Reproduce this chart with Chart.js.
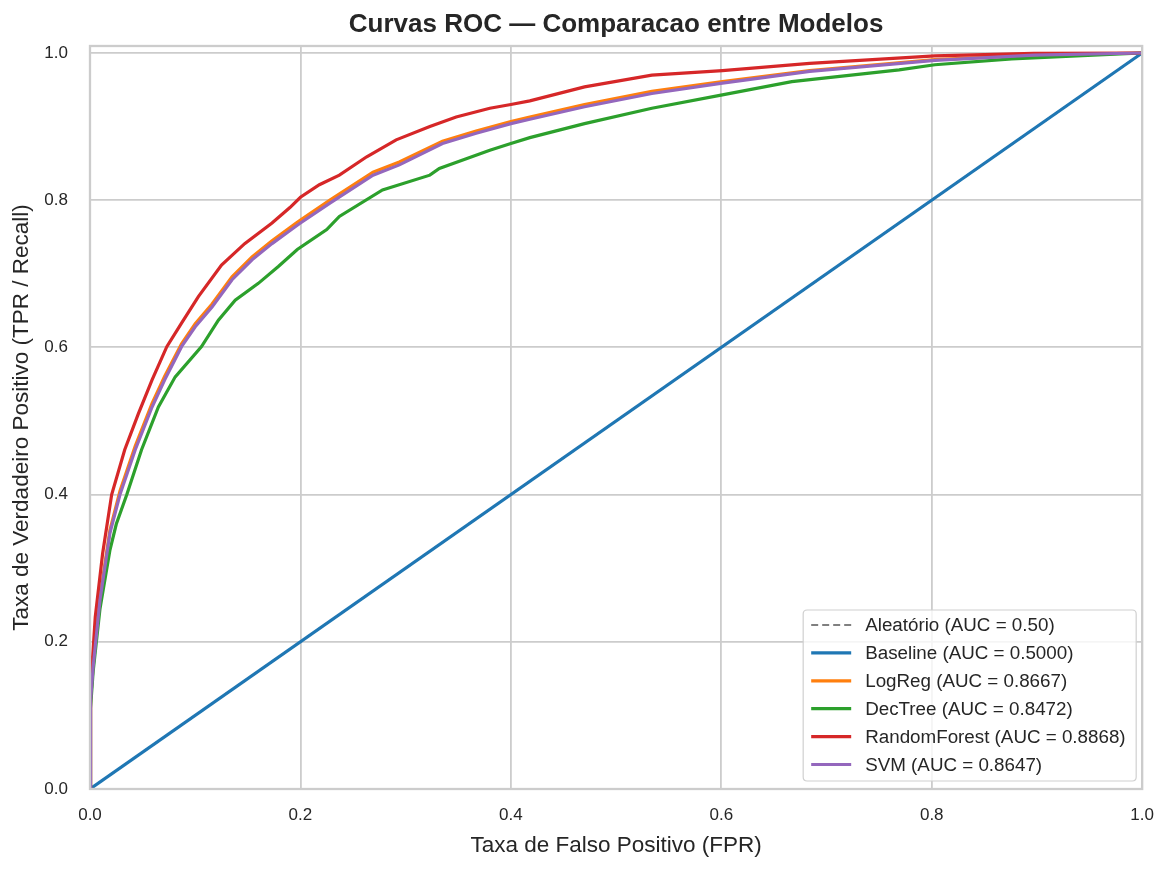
<!DOCTYPE html>
<html>
<head>
<meta charset="utf-8">
<script src="https://cdn.jsdelivr.net/npm/chart.js@4.4.1/dist/chart.umd.min.js"></script>
<style>
  html, body { margin: 0; padding: 0; background: #ffffff; }
  #wrap { width: 1170px; height: 870px; }
  canvas { display: block; }
</style>
</head>
<body>
<div id="wrap"><canvas id="c" width="1170" height="870"></canvas></div>
<script>
// ---- Data ----
const diagFpr = [0, 1];
const diagTpr = [0, 1];

const baseFpr = [0, 1];
const baseTpr = [0, 1];

const svmFpr = [0, 0.0005, 0.003, 0.0095, 0.019, 0.0285, 0.043, 0.059, 0.071, 0.087, 0.1, 0.116, 0.135, 0.154, 0.173, 0.195, 0.2, 0.228, 0.269, 0.294, 0.335, 0.367, 0.4, 0.418, 0.47, 0.534, 0.601, 0.684, 0.803, 0.897, 1];
const svmTpr = [0, 0.12, 0.166, 0.257, 0.348, 0.40, 0.461, 0.519, 0.556, 0.601, 0.628, 0.655, 0.692, 0.719, 0.741, 0.764, 0.769, 0.796, 0.834, 0.848, 0.877, 0.891, 0.904, 0.910, 0.927, 0.945, 0.959, 0.975, 0.990, 0.997, 1];

const lrFpr = [0, 0.0005, 0.003, 0.0095, 0.019, 0.0285, 0.043, 0.059, 0.071, 0.087, 0.1, 0.116, 0.135, 0.154, 0.173, 0.195, 0.2, 0.228, 0.269, 0.294, 0.335, 0.367, 0.4, 0.418, 0.47, 0.534, 0.601, 0.684, 0.803, 0.897, 1];
const lrTpr = [0, 0.12, 0.168, 0.261, 0.352, 0.405, 0.466, 0.524, 0.561, 0.605, 0.632, 0.659, 0.696, 0.723, 0.745, 0.768, 0.773, 0.800, 0.838, 0.852, 0.880, 0.894, 0.907, 0.913, 0.930, 0.948, 0.961, 0.976, 0.991, 0.997, 1];

const dtFpr = [0, 0.0005, 0.003, 0.0095, 0.019, 0.025, 0.035, 0.049, 0.065, 0.081, 0.106, 0.122, 0.138, 0.16, 0.179, 0.197, 0.225, 0.237, 0.278, 0.323, 0.332, 0.38, 0.4, 0.418, 0.47, 0.534, 0.601, 0.667, 0.769, 0.803, 0.876, 1];
const dtTpr = [0, 0.11, 0.16, 0.245, 0.325, 0.36, 0.40, 0.461, 0.519, 0.56, 0.601, 0.637, 0.664, 0.687, 0.71, 0.733, 0.76, 0.778, 0.814, 0.834, 0.843, 0.868, 0.877, 0.885, 0.904, 0.925, 0.943, 0.961, 0.977, 0.984, 0.992, 1];

const rfFpr = [0, 0.0005, 0.003, 0.005, 0.012, 0.0206, 0.033, 0.046, 0.059, 0.073, 0.087, 0.103, 0.125, 0.147, 0.173, 0.19, 0.2, 0.218, 0.237, 0.263, 0.291, 0.323, 0.348, 0.38, 0.4, 0.418, 0.47, 0.534, 0.601, 0.684, 0.803, 0.897, 1];
const rfTpr = [0, 0.14, 0.19, 0.234, 0.32, 0.40, 0.461, 0.51, 0.556, 0.601, 0.633, 0.669, 0.712, 0.741, 0.769, 0.79, 0.804, 0.821, 0.834, 0.859, 0.882, 0.90, 0.913, 0.925, 0.93, 0.935, 0.954, 0.97, 0.976, 0.986, 0.996, 0.9995, 1];

const seriesLabels = [
  'Aleatório (AUC = 0.50)',
  'Baseline (AUC = 0.5000)',
  'LogReg (AUC = 0.8667)',
  'DecTree (AUC = 0.8472)',
  'RandomForest (AUC = 0.8868)',
  'SVM (AUC = 0.8647)'
];
const xTickValues = [0, 0.2, 0.4, 0.6, 0.8, 1.0];
const yTickValues = [0, 0.2, 0.4, 0.6, 0.8, 1.0];

const titleText = 'Curvas ROC — Comparacao entre Modelos';
const xTitle = 'Taxa de Falso Positivo (FPR)';
const yTitle = 'Taxa de Verdadeiro Positivo (TPR / Recall)';

// ---- Helpers ----
function pts(xs, ys) { return xs.map((x, i) => ({ x: x, y: ys[i] })); }
const FONT = "'Liberation Sans', Arial, Helvetica, sans-serif";
const TEXT = '#262626';
const GRID = '#cccccc';

function lineDs(label, xs, ys, color, order, dash) {
  return {
    label: label,
    data: pts(xs, ys),
    borderColor: color,
    backgroundColor: color,
    borderWidth: 3.2,
    borderDash: dash || [],
    pointRadius: 0,
    tension: 0,
    fill: false,
    order: order
  };
}

const datasets = [
  lineDs(seriesLabels[0], diagFpr, diagTpr, 'rgba(128,128,128,1)', 6, [7, 4]),
  lineDs(seriesLabels[1], baseFpr, baseTpr, '#1f77b4', 5),
  lineDs(seriesLabels[2], lrFpr, lrTpr, '#ff7f0e', 4),
  lineDs(seriesLabels[3], dtFpr, dtTpr, '#2ca02c', 3),
  lineDs(seriesLabels[4], rfFpr, rfTpr, '#d62728', 2),
  lineDs(seriesLabels[5], svmFpr, svmTpr, '#9467bd', 1)
];
datasets[0].borderWidth = 2;

// ---- Plugins ----
const framePlugin = {
  id: 'frame',
  afterDraw(chart) {
    const { ctx, chartArea: a } = chart;
    ctx.save();
    ctx.strokeStyle = GRID;
    ctx.lineWidth = 2.3;
    ctx.strokeRect(a.left, a.top, a.right - a.left, a.bottom - a.top);
    ctx.restore();
  }
};

const titlePlugin = {
  id: 'customTitle',
  afterDraw(chart) {
    const { ctx, chartArea: a } = chart;
    ctx.save();
    ctx.fillStyle = TEXT;
    ctx.font = 'bold 26px ' + FONT;
    ctx.textAlign = 'center';
    ctx.textBaseline = 'alphabetic';
    ctx.fillText(titleText, (a.left + a.right) / 2, 32);
    ctx.restore();
  }
};

const legendPlugin = {
  id: 'customLegend',
  afterDraw(chart) {
    const { ctx, chartArea: a } = chart;
    const ds = chart.data.datasets;
    const boxW = 333, rowH = 27.9, padTop = 15;
    const boxH = 171;
    const right = a.right - 6, bottom = a.bottom - 8;
    const left = right - boxW, top = bottom - boxH;
    ctx.save();
    const r = 4;
    ctx.beginPath();
    ctx.moveTo(left + r, top);
    ctx.lineTo(right - r, top);
    ctx.quadraticCurveTo(right, top, right, top + r);
    ctx.lineTo(right, bottom - r);
    ctx.quadraticCurveTo(right, bottom, right - r, bottom);
    ctx.lineTo(left + r, bottom);
    ctx.quadraticCurveTo(left, bottom, left, bottom - r);
    ctx.lineTo(left, top + r);
    ctx.quadraticCurveTo(left, top, left + r, top);
    ctx.closePath();
    ctx.fillStyle = 'rgba(255,255,255,0.8)';
    ctx.fill();
    ctx.strokeStyle = '#d0d0d0';
    ctx.lineWidth = 1.2;
    ctx.stroke();
    ctx.font = '18.8px ' + FONT;
    ctx.textAlign = 'left';
    ctx.textBaseline = 'middle';
    ds.forEach((d, i) => {
      const y = top + padTop + rowH * i;
      ctx.beginPath();
      ctx.setLineDash(d.borderDash || []);
      ctx.strokeStyle = d.borderColor;
      ctx.lineWidth = d.borderWidth;
      ctx.moveTo(left + 8, y);
      ctx.lineTo(left + 48, y);
      ctx.stroke();
      ctx.setLineDash([]);
      ctx.fillStyle = TEXT;
      ctx.fillText(d.label, left + 62, y + 1);
    });
    ctx.restore();
  }
};

// ---- Chart ----
new Chart(document.getElementById('c'), {
  type: 'line',
  data: { datasets: datasets },
  plugins: [framePlugin, titlePlugin, legendPlugin],
  options: {
    responsive: false,
    animation: false,
    devicePixelRatio: 1,
    layout: { padding: { top: 46, right: 27, left: 0, bottom: 0 } },
    plugins: {
      legend: { display: false },
      title: { display: false },
      tooltip: { enabled: false }
    },
    scales: {
      x: {
        type: 'linear',
        min: 0,
        max: 1,
        afterFit(scale) { scale.height = 81; },
        afterBuildTicks(scale) { scale.ticks = xTickValues.map(v => ({ value: v })); },
        grid: { color: GRID, lineWidth: 1.8, drawTicks: false },
        border: { display: false },
        ticks: {
          color: TEXT,
          font: { family: FONT, size: 17 },
          padding: 16,
          maxRotation: 0,
          callback: v => Number(v).toFixed(1)
        },
        title: {
          display: true,
          text: xTitle,
          color: TEXT,
          font: { family: FONT, size: 22.5 },
          padding: { top: 0, bottom: 11 }
        }
      },
      y: {
        type: 'linear',
        min: 0,
        max: 1.0095,
        afterFit(scale) { scale.width = 90; },
        afterBuildTicks(scale) { scale.ticks = yTickValues.map(v => ({ value: v })); },
        grid: { color: GRID, lineWidth: 1.8, drawTicks: false },
        border: { display: false },
        ticks: {
          color: TEXT,
          font: { family: FONT, size: 17 },
          padding: 22,
          callback: v => Number(v).toFixed(1)
        },
        title: {
          display: true,
          text: yTitle,
          color: TEXT,
          font: { family: FONT, size: 22.5 },
          padding: { top: 8, bottom: 0 }
        }
      }
    }
  }
});
</script>
</body>
</html>
